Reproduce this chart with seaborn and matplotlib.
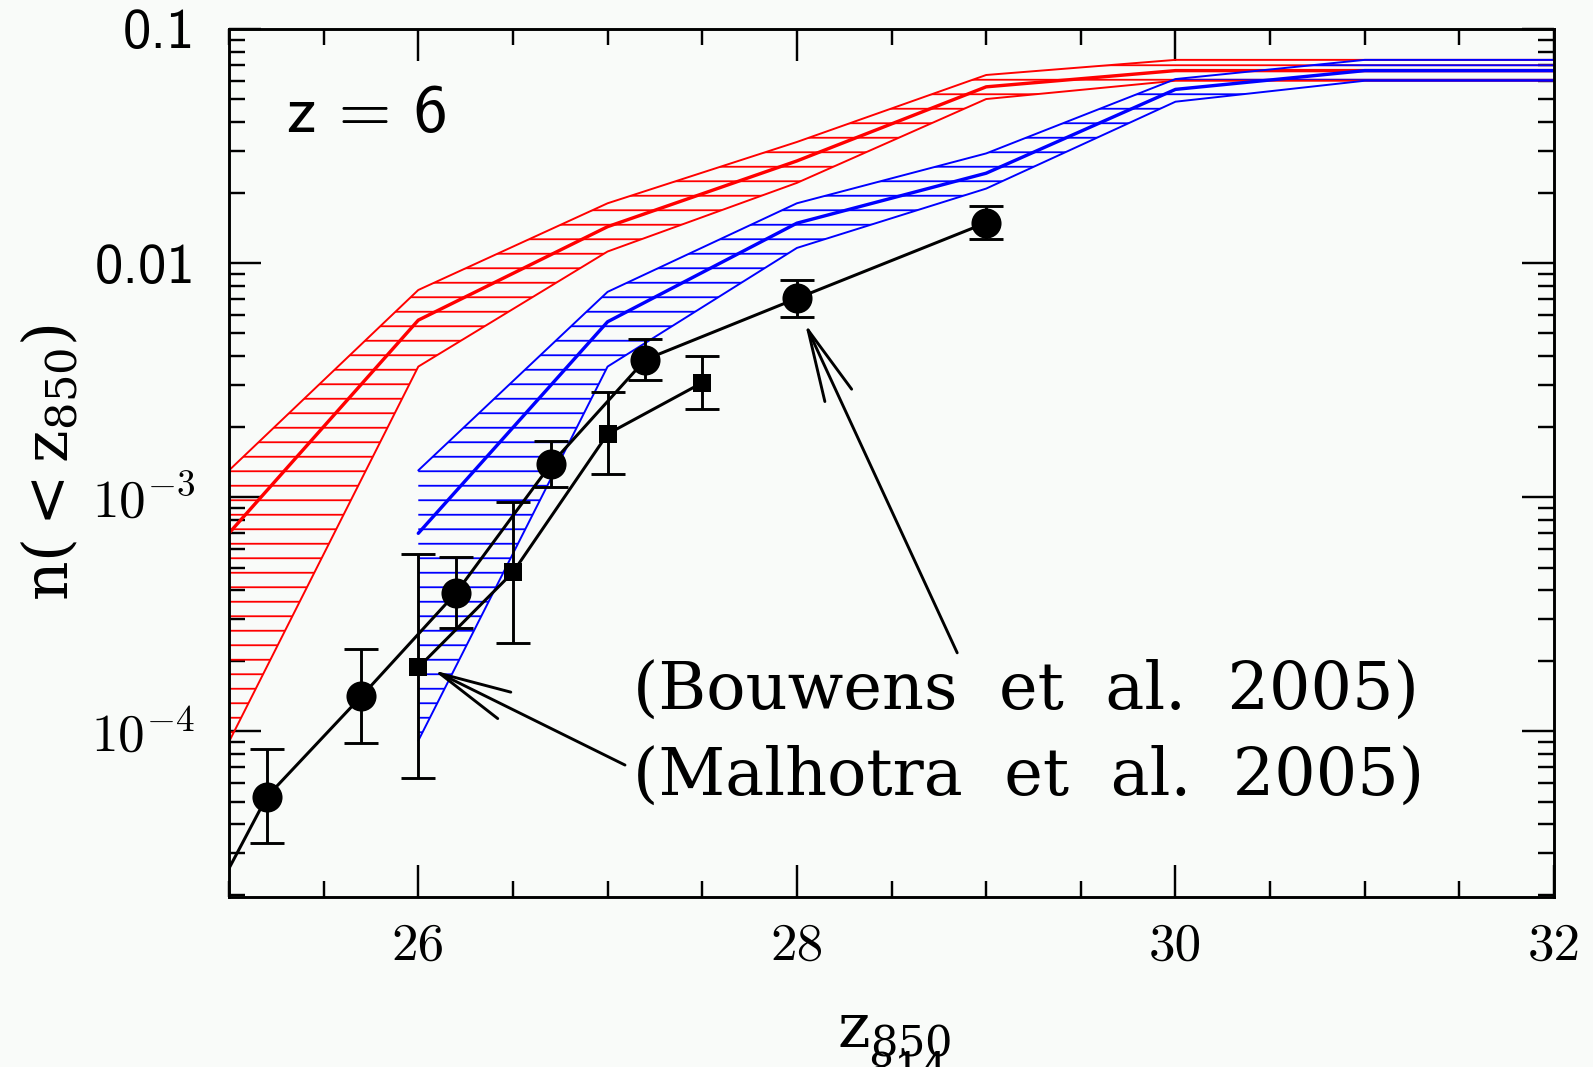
import matplotlib
matplotlib.use("Agg")
import seaborn as sns
from matplotlib import pyplot as plt
from matplotlib.ticker import MultipleLocator, LogLocator, NullFormatter

# model bands: upper / central / lower curves
red_x = [25, 26, 27, 28, 29, 30, 31, 32]
red_hi = [1.30e-3, 7.67e-3, 0.0180, 0.0329, 0.0636, 0.0738, 0.0738, 0.0738]
red_mid = [7.01e-4, 5.70e-3, 0.0143, 0.0273, 0.0566, 0.0664, 0.0664, 0.0664]
red_lo = [9.0e-5, 3.61e-3, 0.0112, 0.0220, 0.0502, 0.0601, 0.0601, 0.0601]

blue_x = [26, 27, 28, 29, 30, 31, 32]
blue_hi = [1.30e-3, 7.53e-3, 0.0180, 0.0294, 0.0611, 0.0738, 0.0738]
blue_mid = [7.0e-4, 5.61e-3, 0.0148, 0.0242, 0.0552, 0.0664, 0.0664]
blue_lo = [9.1e-5, 3.61e-3, 0.0116, 0.0208, 0.0489, 0.0601, 0.0601]

# Bouwens et al. 2005 (circles)
bouwens_x = [25.2, 25.7, 26.2, 26.7, 27.2, 28.0, 29.0]
bouwens_y = [5.24e-5, 1.41e-4, 3.90e-4, 1.38e-3, 3.87e-3, 7.06e-3, 0.01486]
bouwens_hi = [8.36e-5, 2.25e-4, 5.56e-4, 1.74e-3, 4.73e-3, 8.45e-3, 0.01758]
bouwens_lo = [3.34e-5, 8.9e-5, 2.77e-4, 1.10e-3, 3.16e-3, 5.86e-3, 0.01268]
# the connecting curve starts at the left edge
bouwens_line_x = [25.0] + bouwens_x
bouwens_line_y = [2.59e-5] + bouwens_y

# Malhotra et al. 2005 (squares)
malhotra_x = [26.0, 26.5, 27.0, 27.5]
malhotra_y = [1.87e-4, 4.77e-4, 1.86e-3, 3.08e-3]
malhotra_hi = [5.70e-4, 9.5e-4, 2.82e-3, 4.0e-3]
malhotra_lo = [6.28e-5, 2.38e-4, 1.25e-3, 2.39e-3]

x_ticks = [26, 28, 30, 32]
x_tick_labels = ["26", "28", "30", "32"]
y_ticks = [1e-4, 1e-3, 0.01, 0.1]
y_tick_labels = [r"$10^{-4}$", r"$10^{-3}$", "0.01", "0.1"]

bg = "#f9fbf9"
sns.set_theme(style="ticks", rc={
    "figure.facecolor": bg,
    "axes.facecolor": bg,
    "axes.edgecolor": "black",
    "axes.linewidth": 2.4,
    "text.color": "black",
    "axes.labelcolor": "black",
    "xtick.color": "black",
    "ytick.color": "black",
    "hatch.linewidth": 1.5,
    "mathtext.fontset": "cm",
})
plt.rcParams["font.family"] = ["DejaVu Serif"]

DPI = 87
fig = plt.figure(figsize=(1593 / DPI, 1067 / DPI), dpi=DPI)
ax = fig.add_axes([0.14375, 0.15933, 0.8318, 0.8135])
ax.set_yscale("log")

# hatched bands
ax.fill_between(red_x, red_lo, red_hi, facecolor="none", edgecolor="red",
                hatch="-", linewidth=0, zorder=1)
ax.fill_between(blue_x, blue_lo, blue_hi, facecolor="none", edgecolor="blue",
                hatch="-", linewidth=0, zorder=1)
for xs, ys, c, w in [(red_x, red_hi, "red", 1.6), (red_x, red_lo, "red", 1.6),
                     (red_x, red_mid, "red", 2.8),
                     (blue_x, blue_hi, "blue", 1.6), (blue_x, blue_lo, "blue", 1.6),
                     (blue_x, blue_mid, "blue", 2.8)]:
    sns.lineplot(x=xs, y=ys, color=c, linewidth=w, ax=ax, zorder=2)

# observations
sns.lineplot(x=bouwens_line_x, y=bouwens_line_y, color="black", linewidth=2.5,
             ax=ax, zorder=3)
sns.lineplot(x=malhotra_x, y=malhotra_y, color="black", linewidth=2.5,
             ax=ax, zorder=3)
ax.errorbar(bouwens_x, bouwens_y,
            yerr=[[y - l for y, l in zip(bouwens_y, bouwens_lo)],
                  [h - y for y, h in zip(bouwens_y, bouwens_hi)]],
            fmt="none", ecolor="black", elinewidth=2.4, capsize=14,
            capthick=2.4, zorder=4)
ax.errorbar(malhotra_x, malhotra_y,
            yerr=[[y - l for y, l in zip(malhotra_y, malhotra_lo)],
                  [h - y for y, h in zip(malhotra_y, malhotra_hi)]],
            fmt="none", ecolor="black", elinewidth=2.4, capsize=14,
            capthick=2.4, zorder=4)
sns.scatterplot(x=bouwens_x, y=bouwens_y, marker="o", s=620, color="black",
                edgecolor="black", linewidth=0, ax=ax, zorder=5)
sns.scatterplot(x=malhotra_x, y=malhotra_y, marker="s", s=200, color="black",
                edgecolor="black", linewidth=0, ax=ax, zorder=5)

ax.set_xlim(25, 32)
ax.set_ylim(1.955e-5, 0.1)

# ticks
ax.set_xticks(x_ticks, labels=x_tick_labels)
ax.xaxis.set_minor_locator(MultipleLocator(0.5))
ax.set_yticks(y_ticks, labels=y_tick_labels)
ax.yaxis.set_minor_locator(LogLocator(base=10, subs=range(2, 10), numticks=20))
ax.yaxis.set_minor_formatter(NullFormatter())
ax.tick_params(which="both", direction="in", top=True, right=True,
               color="black", width=2.0)
ax.tick_params(which="major", length=26.5)
ax.tick_params(which="minor", length=13.2)
ax.tick_params(axis="x", pad=21)
ax.tick_params(axis="y", pad=28)
for lbl in ax.get_xticklabels():
    lbl.set_fontfamily("cmr10")
    lbl.set_fontsize(44)
for lbl in ax.get_yticklabels():
    if lbl.get_text().startswith("$"):
        lbl.set_fontsize(44)
    else:
        lbl.set_fontfamily("cmss10")
        lbl.set_fontsize(47)

# axis labels
ax.set_xlabel(r"$\mathrm{z}_{850}$", fontsize=51, math_fontfamily="dejavuserif")
ax.xaxis.set_label_coords(0.502, -0.118)
ax.set_ylabel(r"$\mathrm{n}(<\mathrm{z}_{850})$", fontsize=51,
              math_fontfamily="dejavuserif", va="center")
ax.yaxis.set_label_coords(-0.135, 0.5)
fig.text(0.5694, 0.016, "814", fontsize=35, family="DejaVu Serif",
         ha="center", va="top")

# annotations
ax.text(25.306, 0.0363, "z = 6", fontsize=56, family="cmss10", va="baseline")
ax.text(27.134, 1.24e-4, "(Bouwens  et  al.  2005)", fontsize=54, va="baseline")
ax.text(27.134, 5.32e-5, "(Malhotra  et  al.  2005)", fontsize=54, va="baseline")
arrow = dict(arrowstyle="->,head_length=5.96,head_width=1.22",
             mutation_scale=10, color="black", linewidth=2.4,
             shrinkA=0, shrinkB=0)
ax.annotate("", xy=(28.043, 5.52e-3), xytext=(28.847, 2.16e-4),
            arrowprops=arrow, zorder=6)
ax.annotate("", xy=(26.079, 1.82e-4), xytext=(27.092, 7.16e-5),
            arrowprops=arrow, zorder=6)

plt.savefig("out.png", dpi=DPI, facecolor=bg)
